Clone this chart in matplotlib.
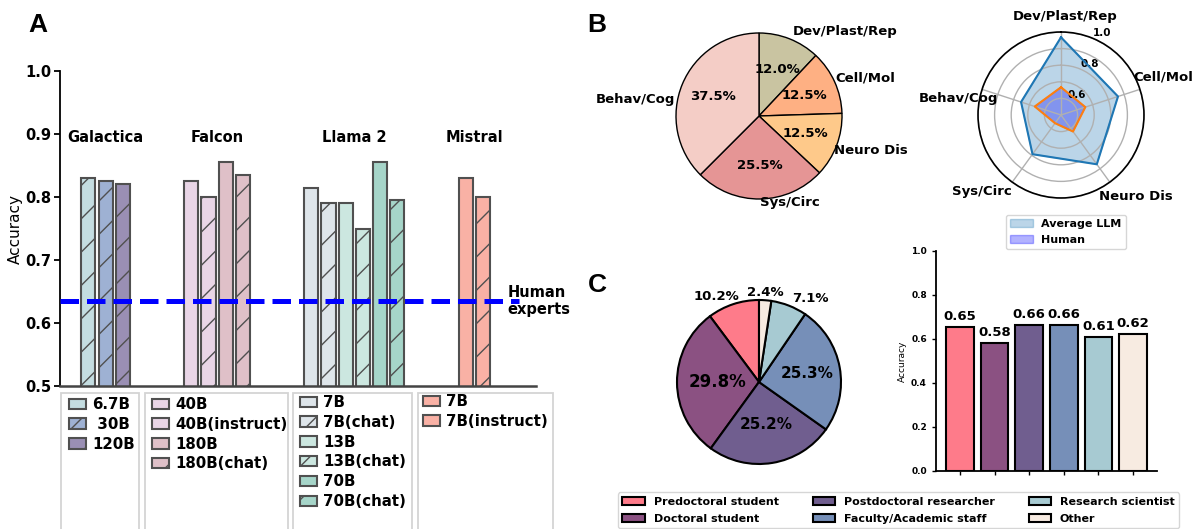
import numpy as np
import matplotlib
matplotlib.use("Agg")
import matplotlib.pyplot as plt
from matplotlib.patches import Patch, Rectangle
from matplotlib.transforms import offset_copy

plt.rcParams['font.family'] = 'DejaVu Sans'
plt.rcParams['font.weight'] = 'bold'

# ---- data ----
model_families = ['Galactica', 'Falcon', 'Llama 2', 'Mistral']
family_sizes = [
    ['6.7B', ' 30B', '120B'],
    ['40B', '40B(instruct)', '180B', '180B(chat)'],
    ['7B', '7B(chat)', '13B', '13B(chat)', '70B', '70B(chat)'],
    ['7B', '7B(instruct)'],
]
family_acc = [
    [0.830, 0.825, 0.820],
    [0.825, 0.800, 0.855, 0.835],
    [0.815, 0.790, 0.790, 0.750, 0.855, 0.795],
    [0.830, 0.800],
]
family_hatched = [
    [True, True, True],
    [False, True, False, True],
    [False, True, False, True, False, True],
    [False, True],
]
family_colors = [
    ['#c4dde1', '#9eb1d3', '#9a8fb4'],
    ['#e9d5e6', '#e9d5e6', '#dfc0c8', '#dfc0c8'],
    ['#dee5ea', '#dee5ea', '#cce7e0', '#cce7e0', '#a6d5c9', '#a6d5c9'],
    ['#f9b1a5', '#f9b1a5'],
]
human_acc = 0.635

topics = ['Dev/Plast/Rep', 'Cell/Mol', 'Neuro Dis', 'Sys/Circ', 'Behav/Cog']
topic_share = [12.0, 12.5, 12.5, 25.5, 37.5]
topic_colors = ['#c9c4a1', '#feb083', '#fec98a', '#e59595', '#f4cdc6']
llm_by_topic = [0.968, 0.861, 0.867, 0.792, 0.753]
human_by_topic = [0.667, 0.654, 0.623, 0.561, 0.666]

roles = ['Predoctoral student', 'Doctoral student', 'Postdoctoral researcher',
         'Faculty/Academic staff', 'Research scientist', 'Other']
role_share = [10.2, 29.8, 25.2, 25.3, 7.1, 2.4]
role_acc = [0.653, 0.583, 0.662, 0.664, 0.610, 0.624]
role_colors = ['#fe7b8a', '#8b5182', '#705e8f', '#768fb8', '#a7cad2', '#f7ebe1']

W, H = 1198, 529
fig = plt.figure(figsize=(W / 100, H / 100), dpi=100)


def box(l, t, r, b):
    return [l / W, 1 - b / H, (r - l) / W, (b - t) / H]


def nudge(t, dx, dy):
    t.set_transform(offset_copy(t.get_transform(), fig=fig, x=dx, y=dy, units='dots'))


# ---- panel A ----
axA = fig.add_axes(box(60, 71, 536, 386))
edge = '#505050'
start = 0
centers = []
for g in range(len(model_families)):
    xs = start + np.arange(len(family_acc[g]))
    for x, v, c, h in zip(xs, family_acc[g], family_colors[g], family_hatched[g]):
        axA.bar(x, v, width=0.82, color=c, edgecolor=edge, linewidth=1.5,
                hatch='/' if h else None, zorder=2)
    centers.append(xs.mean())
    start += len(family_acc[g]) + 3

for name, cx in zip(model_families, centers):
    axA.text(cx, 0.895, name, ha='center', va='center', fontsize=10.5, weight='bold')

axA.hlines(human_acc, -1.66, 25.1, colors='blue', linestyles='--', lw=3.6, zorder=3)
axA.text(24.45, human_acc, 'Human\nexperts', ha='left', va='center',
         fontsize=10.5, weight='bold')
axA.set_xlim(-1.66, 26.1)
axA.set_ylim(0.5, 1.0)
axA.set_yticks(np.arange(0.5, 1.01, 0.1))
axA.set_yticklabels(['%.1f' % t for t in np.arange(0.5, 1.01, 0.1)], fontsize=10.5)
axA.set_xticks([])
axA.set_ylabel('Accuracy', fontsize=11, fontweight='normal', labelpad=2)
for s in ['top', 'right']:
    axA.spines[s].set_visible(False)
axA.spines['left'].set_linewidth(1.3)
axA.spines['bottom'].set_linewidth(1.8)
axA.spines['bottom'].set_color('#444444')
axA.tick_params(axis='y', length=4, width=1.3, pad=2)

# legends under panel A
leg_frames = [(61, 139, 69, 397), (145, 288, 152, 397), (293, 412, 300, 395), (418, 553, 423, 394)]
for g, (fl, fr, hx, ty) in enumerate(leg_frames):
    handles = [Patch(facecolor=c, edgecolor=edge, linewidth=1.5, hatch='/' if h else None)
               for c, h in zip(family_colors[g], family_hatched[g])]
    fig.legend(handles, family_sizes[g], loc='upper left',
               bbox_to_anchor=(hx / W, 1 - ty / H), bbox_transform=fig.transFigure,
               frameon=False, borderpad=0, borderaxespad=0, handlelength=1.15,
               handleheight=0.7, handletextpad=0.4, labelspacing=0.32,
               prop={'size': 10.8, 'weight': 'bold'})
    fig.patches.append(Rectangle((fl / W, -0.05), (fr - fl) / W, 0.05 + 1 - 393 / H,
                                 transform=fig.transFigure, facecolor='none',
                                 edgecolor='#d4d4d4', linewidth=1.3))

# ---- panel B pie ----
axB = fig.add_axes(box(655.25, 12.25, 862.75, 219.75))
_, btexts, _ = axB.pie(topic_share, labels=topics, colors=topic_colors, startangle=90,
                       counterclock=False, autopct='%1.1f%%',
                       wedgeprops=dict(edgecolor='black', linewidth=1),
                       textprops=dict(fontsize=9.5, weight='bold'))
for t, (dx, dy) in zip(btexts, [(0, 0), (-7, 0), (-10, -2), (0, 5), (0, -18)]):
    nudge(t, dx, dy)
axB.set_xlim(-1.25, 1.25)
axB.set_ylim(-1.25, 1.25)
axB.set_aspect('equal')

# ---- panel B radar ----
axR = fig.add_axes(box(978, 32, 1144, 198), projection='polar')
ang = np.linspace(0, 2 * np.pi, len(topics), endpoint=False)
ang_c = np.append(ang, ang[0])
llm_c = np.append(llm_by_topic, llm_by_topic[0])
hum_c = np.append(human_by_topic, human_by_topic[0])
axR.set_theta_offset(np.pi / 2)
axR.set_theta_direction(-1)
axR.plot(ang_c, llm_c, color='tab:blue', lw=1.5)
axR.fill(ang_c, llm_c, color='tab:blue', alpha=0.3, label='Average LLM')
axR.plot(ang_c, hum_c, color='tab:orange', lw=1.5)
axR.fill(ang_c, hum_c, color='blue', alpha=0.3, label='Human')
axR.set_ylim(0.5, 1.0)
axR.set_yticks([0.6, 0.7, 0.8, 0.9, 1.0])
axR.set_yticklabels(['0.6', '', '0.8', '', '1.0'], fontsize=7.5, weight='bold')
axR.set_xticks(ang)
axR.set_xticklabels([])
label_theta = np.deg2rad([2.3, 69.6, 137.5, 225.7, 279.0])
label_r = [1.096, 1.157, 1.169, 1.163, 1.127]
for name, th, r in zip(topics, label_theta, label_r):
    axR.text(th, r, name, ha='center', va='center', fontsize=9.5, weight='bold',
             clip_on=False)
axR.grid(color='#b0b0b0', lw=1)
axR.spines['polar'].set_linewidth(1.2)
axR.legend(loc='upper center', bbox_to_anchor=(1066 / W, 1 - 209 / H),
           bbox_transform=fig.transFigure, prop={'size': 8, 'weight': 'bold'})

# ---- panel C pie ----
axC = fig.add_axes(box(656.5, 279.5, 861.5, 484.5))
wedges, texts, autotexts = axC.pie(role_share, colors=role_colors, startangle=90,
                                   counterclock=True, autopct='%1.1f%%',
                                   wedgeprops=dict(edgecolor='black', linewidth=1.5),
                                   textprops=dict(weight='bold'))
pct_dist = [1.1, 0.51, 0.52, 0.6, 1.1, 1.1]
pct_size = [9.5, 12, 11, 11, 9.5, 9.5]
for w, t, d, fs in zip(wedges, autotexts, pct_dist, pct_size):
    th = np.deg2rad((w.theta1 + w.theta2) / 2)
    x, y = d * np.cos(th), d * np.sin(th)
    t.set_position((x, y))
    t.set_fontsize(fs)
    if d > 1:
        t.set_ha('center' if abs(np.cos(th)) < 0.1 else ('left' if x > 0 else 'right'))
nudge(autotexts[0], 9, 0)
axC.set_xlim(-1.25, 1.25)
axC.set_ylim(-1.25, 1.25)
axC.set_aspect('equal')

# ---- panel C bars ----
axD = fig.add_axes(box(936, 251, 1157, 471))
bars = axD.bar(range(len(roles)), role_acc, color=role_colors, edgecolor='black',
               linewidth=1.5, width=0.8)
axD.bar_label(bars, fmt='%.2f', padding=3, fontsize=9.5, weight='bold')
axD.set_ylim(0, 1.0)
axD.set_yticks(np.arange(0, 1.01, 0.2))
axD.set_yticklabels(['%.1f' % t for t in np.arange(0, 1.01, 0.2)], fontsize=6.5)
axD.set_xticks(range(len(roles)))
axD.set_xticklabels([])
axD.set_ylabel('Accuracy', fontsize=6.5, fontweight='normal', labelpad=3)
for s in ['top', 'right']:
    axD.spines[s].set_visible(False)
axD.spines['left'].set_linewidth(1.3)
axD.spines['bottom'].set_linewidth(1.3)
axD.tick_params(length=3, width=1)

fig.legend(wedges, roles, ncol=3, loc='upper left', mode='expand',
           bbox_to_anchor=(618 / W, 1 - 493 / H, 561 / W, 0.001),
           bbox_transform=fig.transFigure, borderaxespad=0, labelspacing=0.6,
           prop={'size': 8, 'weight': 'bold'})

# panel letters
for letter, lx, ly in [('A', 28, 32), ('B', 587, 32), ('C', 588, 292)]:
    fig.text(lx / W, 1 - ly / H, letter, fontsize=19, weight='bold',
             family='Liberation Sans', va='baseline')

fig.savefig('out.png', dpi=100)
